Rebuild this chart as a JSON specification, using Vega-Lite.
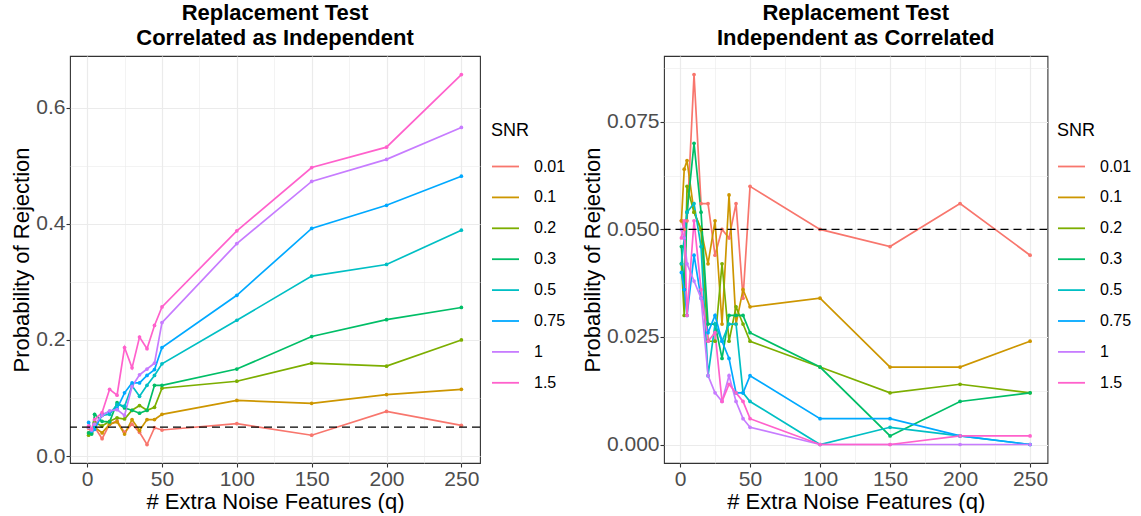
{
  "$schema": "https://vega.github.io/schema/vega-lite/v6.json",
  "padding": {"left": 10, "top": 1, "right": 0, "bottom": 0},
  "spacing": 13,
  "config": {
    "font": "Liberation Sans",
    "view": {"stroke": "#333333", "strokeWidth": 1.1},
    "axis": {"labelFont": "Liberation Sans", "labelFontSize": 21, "labelColor": "#4D4D4D", "titleFont": "Liberation Sans", "titleFontSize": 22, "titleFontWeight": "normal", "titleColor": "black", "tickSize": 4, "tickWidth": 1.1, "domain": false, "gridColor": "#EBEBEB", "labelPadding": 1, "titlePadding": 2, "labelFlush": false, "labelOverlap": false},
    "legend": {"orient": "none", "legendY": 66, "titleFont": "Liberation Sans", "titleFontSize": 18, "titleFontWeight": "normal", "titleColor": "black", "labelFont": "Liberation Sans", "labelFontSize": 16, "labelColor": "black", "symbolType": "stroke", "symbolSize": 729, "symbolStrokeWidth": 1.8, "rowPadding": 7.9, "labelOffset": 14, "titlePadding": 12, "padding": 0},
    "title": {"font": "Liberation Sans", "fontSize": 22, "fontWeight": "bold", "color": "black", "anchor": "middle", "frame": "group", "lineHeight": 25, "offset": 6}
  },
  "resolve": {"legend": {"color": "independent"}, "scale": {"color": "independent", "y": "independent"}},
  "data": {"values": [
    {"panel":"L","snr":"0.01","q":1,"p":0.048},{"panel":"L","snr":"0.01","q":3,"p":0.042},{"panel":"L","snr":"0.01","q":5,"p":0.050},{"panel":"L","snr":"0.01","q":10,"p":0.030},{"panel":"L","snr":"0.01","q":15,"p":0.055},{"panel":"L","snr":"0.01","q":20,"p":0.061},{"panel":"L","snr":"0.01","q":25,"p":0.041},{"panel":"L","snr":"0.01","q":30,"p":0.055},{"panel":"L","snr":"0.01","q":35,"p":0.041},{"panel":"L","snr":"0.01","q":40,"p":0.020},{"panel":"L","snr":"0.01","q":45,"p":0.049},{"panel":"L","snr":"0.01","q":50,"p":0.045},{"panel":"L","snr":"0.01","q":100,"p":0.056},{"panel":"L","snr":"0.01","q":150,"p":0.036},{"panel":"L","snr":"0.01","q":200,"p":0.077},{"panel":"L","snr":"0.01","q":250,"p":0.053},
    {"panel":"L","snr":"0.1","q":1,"p":0.040},{"panel":"L","snr":"0.1","q":3,"p":0.045},{"panel":"L","snr":"0.1","q":5,"p":0.050},{"panel":"L","snr":"0.1","q":10,"p":0.040},{"panel":"L","snr":"0.1","q":15,"p":0.055},{"panel":"L","snr":"0.1","q":20,"p":0.059},{"panel":"L","snr":"0.1","q":25,"p":0.038},{"panel":"L","snr":"0.1","q":30,"p":0.063},{"panel":"L","snr":"0.1","q":35,"p":0.044},{"panel":"L","snr":"0.1","q":40,"p":0.063},{"panel":"L","snr":"0.1","q":45,"p":0.063},{"panel":"L","snr":"0.1","q":50,"p":0.072},{"panel":"L","snr":"0.1","q":100,"p":0.096},{"panel":"L","snr":"0.1","q":150,"p":0.091},{"panel":"L","snr":"0.1","q":200,"p":0.106},{"panel":"L","snr":"0.1","q":250,"p":0.115},
    {"panel":"L","snr":"0.2","q":1,"p":0.036},{"panel":"L","snr":"0.2","q":3,"p":0.040},{"panel":"L","snr":"0.2","q":5,"p":0.058},{"panel":"L","snr":"0.2","q":10,"p":0.052},{"panel":"L","snr":"0.2","q":15,"p":0.060},{"panel":"L","snr":"0.2","q":20,"p":0.066},{"panel":"L","snr":"0.2","q":25,"p":0.064},{"panel":"L","snr":"0.2","q":30,"p":0.079},{"panel":"L","snr":"0.2","q":35,"p":0.087},{"panel":"L","snr":"0.2","q":40,"p":0.079},{"panel":"L","snr":"0.2","q":45,"p":0.084},{"panel":"L","snr":"0.2","q":50,"p":0.117},{"panel":"L","snr":"0.2","q":100,"p":0.129},{"panel":"L","snr":"0.2","q":150,"p":0.160},{"panel":"L","snr":"0.2","q":200,"p":0.155},{"panel":"L","snr":"0.2","q":250,"p":0.200},
    {"panel":"L","snr":"0.3","q":1,"p":0.040},{"panel":"L","snr":"0.3","q":3,"p":0.038},{"panel":"L","snr":"0.3","q":5,"p":0.072},{"panel":"L","snr":"0.3","q":10,"p":0.060},{"panel":"L","snr":"0.3","q":15,"p":0.059},{"panel":"L","snr":"0.3","q":20,"p":0.092},{"panel":"L","snr":"0.3","q":25,"p":0.083},{"panel":"L","snr":"0.3","q":30,"p":0.079},{"panel":"L","snr":"0.3","q":35,"p":0.074},{"panel":"L","snr":"0.3","q":40,"p":0.079},{"panel":"L","snr":"0.3","q":45,"p":0.122},{"panel":"L","snr":"0.3","q":50,"p":0.122},{"panel":"L","snr":"0.3","q":100,"p":0.150},{"panel":"L","snr":"0.3","q":150,"p":0.206},{"panel":"L","snr":"0.3","q":200,"p":0.235},{"panel":"L","snr":"0.3","q":250,"p":0.256},
    {"panel":"L","snr":"0.5","q":1,"p":0.050},{"panel":"L","snr":"0.5","q":3,"p":0.045},{"panel":"L","snr":"0.5","q":5,"p":0.050},{"panel":"L","snr":"0.5","q":10,"p":0.070},{"panel":"L","snr":"0.5","q":15,"p":0.072},{"panel":"L","snr":"0.5","q":20,"p":0.089},{"panel":"L","snr":"0.5","q":25,"p":0.086},{"panel":"L","snr":"0.5","q":30,"p":0.121},{"panel":"L","snr":"0.5","q":35,"p":0.103},{"panel":"L","snr":"0.5","q":40,"p":0.122},{"panel":"L","snr":"0.5","q":45,"p":0.139},{"panel":"L","snr":"0.5","q":50,"p":0.159},{"panel":"L","snr":"0.5","q":100,"p":0.234},{"panel":"L","snr":"0.5","q":150,"p":0.310},{"panel":"L","snr":"0.5","q":200,"p":0.330},{"panel":"L","snr":"0.5","q":250,"p":0.389},
    {"panel":"L","snr":"0.75","q":1,"p":0.058},{"panel":"L","snr":"0.75","q":3,"p":0.043},{"panel":"L","snr":"0.75","q":5,"p":0.046},{"panel":"L","snr":"0.75","q":10,"p":0.072},{"panel":"L","snr":"0.75","q":15,"p":0.076},{"panel":"L","snr":"0.75","q":20,"p":0.082},{"panel":"L","snr":"0.75","q":25,"p":0.109},{"panel":"L","snr":"0.75","q":30,"p":0.126},{"panel":"L","snr":"0.75","q":35,"p":0.126},{"panel":"L","snr":"0.75","q":40,"p":0.139},{"panel":"L","snr":"0.75","q":45,"p":0.149},{"panel":"L","snr":"0.75","q":50,"p":0.187},{"panel":"L","snr":"0.75","q":100,"p":0.277},{"panel":"L","snr":"0.75","q":150,"p":0.392},{"panel":"L","snr":"0.75","q":200,"p":0.432},{"panel":"L","snr":"0.75","q":250,"p":0.482},
    {"panel":"L","snr":"1","q":1,"p":0.050},{"panel":"L","snr":"1","q":3,"p":0.045},{"panel":"L","snr":"1","q":5,"p":0.055},{"panel":"L","snr":"1","q":10,"p":0.070},{"panel":"L","snr":"1","q":15,"p":0.078},{"panel":"L","snr":"1","q":20,"p":0.080},{"panel":"L","snr":"1","q":25,"p":0.070},{"panel":"L","snr":"1","q":30,"p":0.120},{"panel":"L","snr":"1","q":35,"p":0.140},{"panel":"L","snr":"1","q":40,"p":0.150},{"panel":"L","snr":"1","q":45,"p":0.160},{"panel":"L","snr":"1","q":50,"p":0.230},{"panel":"L","snr":"1","q":100,"p":0.366},{"panel":"L","snr":"1","q":150,"p":0.473},{"panel":"L","snr":"1","q":200,"p":0.511},{"panel":"L","snr":"1","q":250,"p":0.566},
    {"panel":"L","snr":"1.5","q":1,"p":0.052},{"panel":"L","snr":"1.5","q":3,"p":0.047},{"panel":"L","snr":"1.5","q":5,"p":0.063},{"panel":"L","snr":"1.5","q":10,"p":0.075},{"panel":"L","snr":"1.5","q":15,"p":0.115},{"panel":"L","snr":"1.5","q":20,"p":0.105},{"panel":"L","snr":"1.5","q":25,"p":0.187},{"panel":"L","snr":"1.5","q":30,"p":0.152},{"panel":"L","snr":"1.5","q":35,"p":0.205},{"panel":"L","snr":"1.5","q":40,"p":0.185},{"panel":"L","snr":"1.5","q":45,"p":0.225},{"panel":"L","snr":"1.5","q":50,"p":0.257},{"panel":"L","snr":"1.5","q":100,"p":0.388},{"panel":"L","snr":"1.5","q":150,"p":0.497},{"panel":"L","snr":"1.5","q":200,"p":0.532},{"panel":"L","snr":"1.5","q":250,"p":0.657},
    {"panel":"R","snr":"0.01","q":1,"p":0.052},{"panel":"R","snr":"0.01","q":3,"p":0.050},{"panel":"R","snr":"0.01","q":5,"p":0.052},{"panel":"R","snr":"0.01","q":10,"p":0.086},{"panel":"R","snr":"0.01","q":15,"p":0.056},{"panel":"R","snr":"0.01","q":20,"p":0.056},{"panel":"R","snr":"0.01","q":25,"p":0.044},{"panel":"R","snr":"0.01","q":30,"p":0.050},{"panel":"R","snr":"0.01","q":35,"p":0.048},{"panel":"R","snr":"0.01","q":40,"p":0.056},{"panel":"R","snr":"0.01","q":45,"p":0.034},{"panel":"R","snr":"0.01","q":50,"p":0.060},{"panel":"R","snr":"0.01","q":100,"p":0.050},{"panel":"R","snr":"0.01","q":150,"p":0.046},{"panel":"R","snr":"0.01","q":200,"p":0.056},{"panel":"R","snr":"0.01","q":250,"p":0.044},
    {"panel":"R","snr":"0.1","q":1,"p":0.052},{"panel":"R","snr":"0.1","q":3,"p":0.064},{"panel":"R","snr":"0.1","q":5,"p":0.066},{"panel":"R","snr":"0.1","q":10,"p":0.054},{"panel":"R","snr":"0.1","q":15,"p":0.050},{"panel":"R","snr":"0.1","q":20,"p":0.042},{"panel":"R","snr":"0.1","q":25,"p":0.052},{"panel":"R","snr":"0.1","q":30,"p":0.028},{"panel":"R","snr":"0.1","q":35,"p":0.058},{"panel":"R","snr":"0.1","q":40,"p":0.028},{"panel":"R","snr":"0.1","q":45,"p":0.036},{"panel":"R","snr":"0.1","q":50,"p":0.032},{"panel":"R","snr":"0.1","q":100,"p":0.034},{"panel":"R","snr":"0.1","q":150,"p":0.018},{"panel":"R","snr":"0.1","q":200,"p":0.018},{"panel":"R","snr":"0.1","q":250,"p":0.024},
    {"panel":"R","snr":"0.2","q":1,"p":0.042},{"panel":"R","snr":"0.2","q":3,"p":0.030},{"panel":"R","snr":"0.2","q":5,"p":0.060},{"panel":"R","snr":"0.2","q":10,"p":0.054},{"panel":"R","snr":"0.2","q":15,"p":0.050},{"panel":"R","snr":"0.2","q":20,"p":0.024},{"panel":"R","snr":"0.2","q":25,"p":0.024},{"panel":"R","snr":"0.2","q":30,"p":0.042},{"panel":"R","snr":"0.2","q":35,"p":0.024},{"panel":"R","snr":"0.2","q":40,"p":0.032},{"panel":"R","snr":"0.2","q":45,"p":0.028},{"panel":"R","snr":"0.2","q":50,"p":0.024},{"panel":"R","snr":"0.2","q":100,"p":0.018},{"panel":"R","snr":"0.2","q":150,"p":0.012},{"panel":"R","snr":"0.2","q":200,"p":0.014},{"panel":"R","snr":"0.2","q":250,"p":0.012},
    {"panel":"R","snr":"0.3","q":1,"p":0.046},{"panel":"R","snr":"0.3","q":3,"p":0.036},{"panel":"R","snr":"0.3","q":5,"p":0.054},{"panel":"R","snr":"0.3","q":10,"p":0.070},{"panel":"R","snr":"0.3","q":15,"p":0.054},{"panel":"R","snr":"0.3","q":20,"p":0.028},{"panel":"R","snr":"0.3","q":25,"p":0.028},{"panel":"R","snr":"0.3","q":30,"p":0.020},{"panel":"R","snr":"0.3","q":35,"p":0.030},{"panel":"R","snr":"0.3","q":40,"p":0.030},{"panel":"R","snr":"0.3","q":45,"p":0.030},{"panel":"R","snr":"0.3","q":50,"p":0.026},{"panel":"R","snr":"0.3","q":100,"p":0.018},{"panel":"R","snr":"0.3","q":150,"p":0.002},{"panel":"R","snr":"0.3","q":200,"p":0.010},{"panel":"R","snr":"0.3","q":250,"p":0.012},
    {"panel":"R","snr":"0.5","q":1,"p":0.042},{"panel":"R","snr":"0.5","q":3,"p":0.048},{"panel":"R","snr":"0.5","q":5,"p":0.054},{"panel":"R","snr":"0.5","q":10,"p":0.056},{"panel":"R","snr":"0.5","q":15,"p":0.046},{"panel":"R","snr":"0.5","q":20,"p":0.016},{"panel":"R","snr":"0.5","q":25,"p":0.028},{"panel":"R","snr":"0.5","q":30,"p":0.024},{"panel":"R","snr":"0.5","q":35,"p":0.028},{"panel":"R","snr":"0.5","q":40,"p":0.028},{"panel":"R","snr":"0.5","q":45,"p":0.012},{"panel":"R","snr":"0.5","q":50,"p":0.010},{"panel":"R","snr":"0.5","q":100,"p":0.000},{"panel":"R","snr":"0.5","q":150,"p":0.004},{"panel":"R","snr":"0.5","q":200,"p":0.002},{"panel":"R","snr":"0.5","q":250,"p":0.000},
    {"panel":"R","snr":"0.75","q":1,"p":0.040},{"panel":"R","snr":"0.75","q":3,"p":0.036},{"panel":"R","snr":"0.75","q":5,"p":0.030},{"panel":"R","snr":"0.75","q":10,"p":0.044},{"panel":"R","snr":"0.75","q":15,"p":0.034},{"panel":"R","snr":"0.75","q":20,"p":0.026},{"panel":"R","snr":"0.75","q":25,"p":0.030},{"panel":"R","snr":"0.75","q":30,"p":0.024},{"panel":"R","snr":"0.75","q":35,"p":0.020},{"panel":"R","snr":"0.75","q":40,"p":0.012},{"panel":"R","snr":"0.75","q":45,"p":0.012},{"panel":"R","snr":"0.75","q":50,"p":0.016},{"panel":"R","snr":"0.75","q":100,"p":0.006},{"panel":"R","snr":"0.75","q":150,"p":0.006},{"panel":"R","snr":"0.75","q":200,"p":0.002},{"panel":"R","snr":"0.75","q":250,"p":0.000},
    {"panel":"R","snr":"1","q":1,"p":0.050},{"panel":"R","snr":"1","q":3,"p":0.048},{"panel":"R","snr":"1","q":5,"p":0.042},{"panel":"R","snr":"1","q":10,"p":0.038},{"panel":"R","snr":"1","q":15,"p":0.034},{"panel":"R","snr":"1","q":20,"p":0.016},{"panel":"R","snr":"1","q":25,"p":0.012},{"panel":"R","snr":"1","q":30,"p":0.010},{"panel":"R","snr":"1","q":35,"p":0.016},{"panel":"R","snr":"1","q":40,"p":0.010},{"panel":"R","snr":"1","q":45,"p":0.006},{"panel":"R","snr":"1","q":50,"p":0.004},{"panel":"R","snr":"1","q":100,"p":0.000},{"panel":"R","snr":"1","q":150,"p":0.000},{"panel":"R","snr":"1","q":200,"p":0.000},{"panel":"R","snr":"1","q":250,"p":0.000},
    {"panel":"R","snr":"1.5","q":1,"p":0.048},{"panel":"R","snr":"1.5","q":3,"p":0.052},{"panel":"R","snr":"1.5","q":5,"p":0.030},{"panel":"R","snr":"1.5","q":10,"p":0.052},{"panel":"R","snr":"1.5","q":15,"p":0.036},{"panel":"R","snr":"1.5","q":20,"p":0.024},{"panel":"R","snr":"1.5","q":25,"p":0.026},{"panel":"R","snr":"1.5","q":30,"p":0.010},{"panel":"R","snr":"1.5","q":35,"p":0.014},{"panel":"R","snr":"1.5","q":40,"p":0.012},{"panel":"R","snr":"1.5","q":45,"p":0.010},{"panel":"R","snr":"1.5","q":50,"p":0.006},{"panel":"R","snr":"1.5","q":100,"p":0.000},{"panel":"R","snr":"1.5","q":150,"p":0.000},{"panel":"R","snr":"1.5","q":200,"p":0.002},{"panel":"R","snr":"1.5","q":250,"p":0.002}
  ]},
  "hconcat": [
    {
      "width": 410,
      "height": 407,
      "title": {"text": ["Replacement Test", "Correlated as Independent"]},
      "layer": [
        {
          "transform": [{"filter": "datum.panel === 'L'"}],
          "mark": {"type": "line", "strokeWidth": 1.7, "point": {"size": 14, "filled": true}},
          "encoding": {
            "x": {"field": "q", "type": "quantitative", "scale": {"domain": [-11.45, 262.45], "nice": false, "zero": false},
              "axis": {"title": "# Extra Noise Features (q)", "values": [0, 25, 50, 75, 100, 125, 150, 175, 200, 225, 250],
                "labelExpr": "round(datum.value / 25) % 2 === 0 ? datum.label : ''",
                "tickColor": {"condition": {"test": "round(datum.value / 25) % 2 === 0", "value": "#333333"}, "value": "transparent"},
                "gridWidth": {"condition": {"test": "round(datum.value / 25) % 2 === 0", "value": 1.2}, "value": 0.6}}},
            "y": {"field": "p", "type": "quantitative", "scale": {"domain": [-0.0118, 0.689], "nice": false, "zero": false},
              "axis": {"title": "Probability of Rejection", "values": [0, 0.1, 0.2, 0.3, 0.4, 0.5, 0.6], "format": ".1f",
                "labelExpr": "round(datum.value * 10) % 2 === 0 ? datum.label : ''",
                "tickColor": {"condition": {"test": "round(datum.value * 10) % 2 === 0", "value": "#333333"}, "value": "transparent"},
                "gridWidth": {"condition": {"test": "round(datum.value * 10) % 2 === 0", "value": 1.2}, "value": 0.6}}},
            "color": {"field": "snr", "type": "nominal",
              "scale": {"domain": ["0.01", "0.1", "0.2", "0.3", "0.5", "0.75", "1", "1.5"], "range": ["#F8766D", "#CD9600", "#7CAE00", "#00BE67", "#00BFC4", "#00A9FF", "#C77CFF", "#FF61CC"]},
              "legend": {"title": "SNR", "legendX": 421}}
          }
        },
        {
          "data": {"values": [{}]},
          "mark": {"type": "rule", "color": "black", "strokeDash": [8, 5], "strokeWidth": 1.4},
          "encoding": {"y": {"datum": 0.05}}
        }
      ]
    },
    {
      "width": 383.5,
      "height": 407,
      "title": {"text": ["Replacement Test", "Independent as Correlated"]},
      "layer": [
        {
          "transform": [{"filter": "datum.panel === 'R'"}],
          "mark": {"type": "line", "strokeWidth": 1.7, "point": {"size": 14, "filled": true}},
          "encoding": {
            "x": {"field": "q", "type": "quantitative", "scale": {"domain": [-11.45, 262.45], "nice": false, "zero": false},
              "axis": {"title": "# Extra Noise Features (q)", "values": [0, 25, 50, 75, 100, 125, 150, 175, 200, 225, 250],
                "labelExpr": "round(datum.value / 25) % 2 === 0 ? datum.label : ''",
                "tickColor": {"condition": {"test": "round(datum.value / 25) % 2 === 0", "value": "#333333"}, "value": "transparent"},
                "gridWidth": {"condition": {"test": "round(datum.value / 25) % 2 === 0", "value": 1.2}, "value": 0.6}}},
            "y": {"field": "p", "type": "quantitative", "scale": {"domain": [-0.0043, 0.0903], "nice": false, "zero": false},
              "axis": {"title": "Probability of Rejection", "values": [0, 0.0125, 0.025, 0.0375, 0.05, 0.0625, 0.075, 0.0875], "format": ".3f",
                "labelExpr": "round(datum.value * 80) % 2 === 0 ? datum.label : ''",
                "tickColor": {"condition": {"test": "round(datum.value * 80) % 2 === 0", "value": "#333333"}, "value": "transparent"},
                "gridWidth": {"condition": {"test": "round(datum.value * 80) % 2 === 0", "value": 1.2}, "value": 0.6}}},
            "color": {"field": "snr", "type": "nominal",
              "scale": {"domain": ["0.01", "0.1", "0.2", "0.3", "0.5", "0.75", "1", "1.5"], "range": ["#F8766D", "#CD9600", "#7CAE00", "#00BE67", "#00BFC4", "#00A9FF", "#C77CFF", "#FF61CC"]},
              "legend": {"title": "SNR", "legendX": 393}}
          }
        },
        {
          "data": {"values": [{}]},
          "mark": {"type": "rule", "color": "black", "strokeDash": [8, 5], "strokeWidth": 1.4},
          "encoding": {"y": {"datum": 0.05}}
        }
      ]
    }
  ]
}
